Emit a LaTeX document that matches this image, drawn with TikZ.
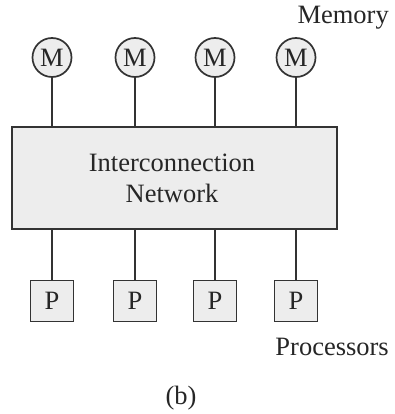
\documentclass[tikz,border=0pt]{standalone}
\usepackage{fontspec}
\setmainfont{Liberation Serif}
\begin{document}
\begin{tikzpicture}[x=1pt,y=-1pt,
  every node/.style={text=black!85, font=\fontsize{26.5}{31}\selectfont},
  ln/.style={draw=black!80, line width=1.7pt},
  mem/.style={ln, circle, fill=black!7, minimum size=39pt, inner sep=0pt},
  proc/.style={ln, rectangle, fill=black!7, minimum width=43pt, minimum height=41pt, inner sep=0pt},
  net/.style={ln, rectangle, fill=black!7, minimum width=325pt, minimum height=102pt, inner sep=0pt, align=center},
  lbl/.style={inner sep=0pt}]
\useasboundingbox (0,0) rectangle (394,414);
\node[net] (N) at (174.5,178) {};
\node[lbl, align=center] (T) at (172,178.5) {Interconnection\\Network};
\foreach \i/\x in {1/52,2/135,3/215,4/296}{
  \node[mem] (M\i) at (\x,57.5) {M};
  \node[proc] (P\i) at (\x,301) {P};
  \draw[ln] (M\i.south) -- (M\i.south |- N.north);
  \draw[ln] (P\i.north) -- (P\i.north |- N.south);
}
\node[lbl, anchor=east] (mem) at (389,18) {Memory};
\node[lbl, anchor=east] (pro) at (389,347) {Processors};
\node[lbl] (b) at (181,398) {(b)};
\end{tikzpicture}
\end{document}
